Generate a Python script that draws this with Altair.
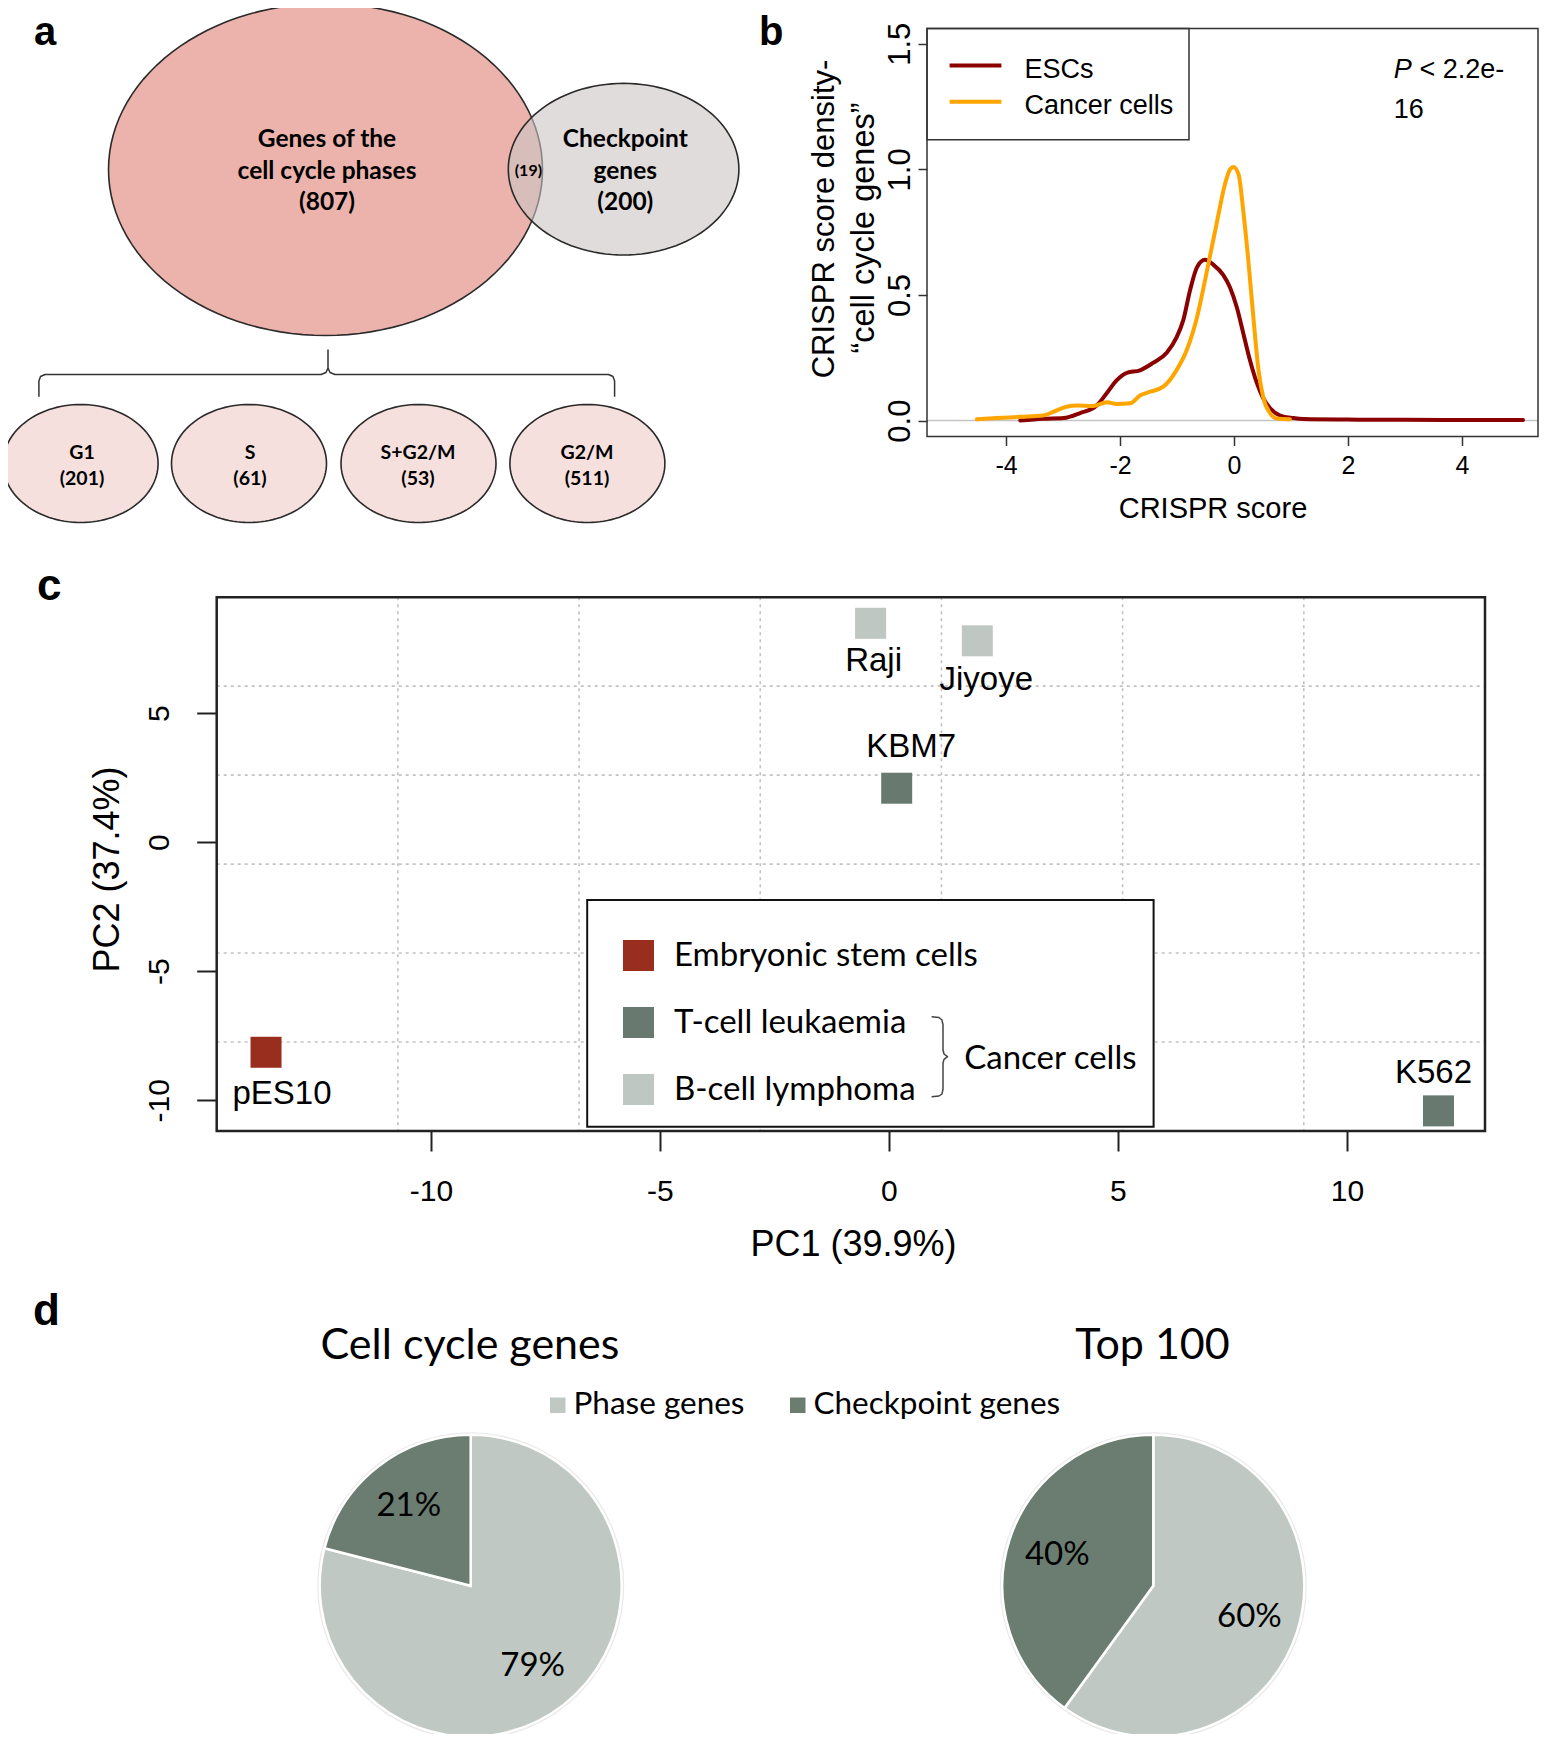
import math
import altair as alt
import pandas as pd

# ============================ DATA ============================
# (a) Venn diagram of gene sets
phase_set_label = "Genes of the\ncell cycle phases"
phase_set_size = 807
checkpoint_set_label = "Checkpoint\ngenes"
checkpoint_set_size = 200
overlap_size = 19
phase_names = ["G1", "S", "S+G2/M", "G2/M"]
phase_sizes = [201, 61, 53, 511]

# (b) CRISPR score density of cell cycle genes
density_series = ["ESCs", "Cancer cells"]
esc_score = [-3.75, -3.35, -2.99, -2.70, -2.41, -2.23, -2.06, -1.88, -1.65, -1.42,
             -1.18, -1.01, -0.89, -0.77, -0.65, -0.51, -0.36, -0.19, -0.07, 0.05,
             0.16, 0.28, 0.40, 0.51, 0.63, 0.81, 1.04, 1.22, 2.0, 3.0, 4.0, 5.07]
esc_density = [0.0, 0.007, 0.01, 0.03, 0.06, 0.11, 0.16, 0.19, 0.20, 0.23,
               0.27, 0.33, 0.40, 0.52, 0.61, 0.64, 0.62, 0.58, 0.53, 0.45,
               0.35, 0.24, 0.15, 0.09, 0.05, 0.02, 0.01, 0.006, 0.004, 0.003, 0.002, 0.002]
cancer_score = [-4.51, -4.16, -3.75, -3.35, -3.17, -2.94, -2.76, -2.47, -2.23, -2.06,
                -1.82, -1.65, -1.47, -1.24, -1.01, -0.83, -0.65, -0.48, -0.30, -0.16,
                -0.07, -0.01, 0.08, 0.16, 0.25, 0.34, 0.43, 0.51, 0.63, 0.75, 0.98]
cancer_density = [0.005, 0.01, 0.015, 0.02, 0.035, 0.055, 0.06, 0.058, 0.073, 0.066,
                  0.069, 0.10, 0.115, 0.135, 0.20, 0.28, 0.41, 0.59, 0.79, 0.94,
                  1.00, 1.01, 0.98, 0.84, 0.64, 0.41, 0.20, 0.095, 0.03, 0.008, 0.005]
score_ticks = [-4, -2, 0, 2, 4]
density_ticks = [0.0, 0.5, 1.0, 1.5]
p_value_parts = ["P", "< 2.2e-", "16"]
b_ytitle_lines = ["CRISPR score density-", "\u201ccell cycle genes\u201d"]

# (c) PCA of cell lines
cell_lines = ["pES10", "Raji", "Jiyoye", "KBM7", "K562"]
pc1 = [-13.60, -0.40, 1.93, 0.17, 12.00]
pc2 = [-8.14, 8.48, 7.80, 2.09, -10.41]
cell_line_type = ["Embryonic stem cells", "B-cell lymphoma", "B-cell lymphoma",
                  "T-cell leukaemia", "T-cell leukaemia"]
cell_types = ["Embryonic stem cells", "T-cell leukaemia", "B-cell lymphoma"]
pc1_ticks = [-10, -5, 0, 5, 10]
pc2_ticks = [-10, -5, 0, 5]
group_label = "Cancer cells"

# (d) pie charts
pie_titles = ["Cell cycle genes", "Top 100"]
gene_classes = ["Phase genes", "Checkpoint genes"]
cell_cycle_share = [79, 21]
top100_share = [60, 40]

# ============================ LAYOUT / STYLE ============================
W, H = 1531, 1726          # whole canvas (plot area, autosize none)
O = 8                      # page margin


def P(v):                  # reference pixel -> chart pixel
    return v - O


FONT = "Liberation Sans"
SFONT = "Lato"
ESC_RED, TCELL, BCELL = "#992E1F", "#687A6F", "#BEC7C1"
PIE_LIGHT, PIE_DARK = "#BFC8C2", "#6B7D71"
LINE_COLORS = ["#8B0000", "#FFA500"]

PXS = alt.Scale(domain=[0, W], range=[0, W], nice=False, zero=False)
PYS = alt.Scale(domain=[0, H], range=[0, H], nice=False, zero=False)
ONE = pd.DataFrame({"k": [0]})


def XP(f="px"):
    return alt.X(f"{f}:Q", scale=PXS, axis=None)


def YP(f="py"):
    return alt.Y(f"{f}:Q", scale=PYS, axis=None)


def text_at(txt, x, y, size, font=FONT, weight="normal", style="normal",
            align="left", baseline="alphabetic", angle=None):
    kw = dict(text=txt, font=font, fontSize=size, fontWeight=weight, fontStyle=style,
              align=align, baseline=baseline, color="black")
    if angle is not None:
        kw["angle"] = angle
    return alt.Chart(ONE).mark_text(**kw).encode(x=alt.value(P(x)), y=alt.value(P(y)))


def rect_at(x0, y0, x1, y1, stroke="#222", sw=1.5, fill=None):
    kw = dict(stroke=stroke, strokeWidth=sw)
    if fill is None:
        kw["fillOpacity"] = 0
        kw["fill"] = "white"
    else:
        kw["fill"] = fill
    return alt.Chart(ONE).mark_rect(**kw).encode(
        x=alt.value(P(x0)), x2=alt.value(P(x1)), y=alt.value(P(y0)), y2=alt.value(P(y1)))


def polyline(pts, color="#333", sw=1.5):
    df = pd.DataFrame({"px": [P(p[0]) for p in pts], "py": [P(p[1]) for p in pts],
                       "i": list(range(len(pts)))})
    return alt.Chart(df).mark_line(color=color, strokeWidth=sw, strokeJoin="round").encode(
        x=XP(), y=YP(), order="i:Q")


def ellipse_shape(k, n=120):
    pts = []
    for i in range(n):
        t = 2 * math.pi * i / n
        pts.append(f"{math.cos(t):.4f},{k * math.sin(t):.4f}")
    return "M" + " L".join(pts) + " Z"


def ellipses(cxs, cy, rx, ry, fill, fill_opacity=1.0):
    df = pd.DataFrame({"px": [P(c) for c in cxs], "py": [P(cy)] * len(cxs)})
    return alt.Chart(df).mark_point(
        shape=ellipse_shape(ry / rx), filled=True, size=(2 * rx) ** 2, fill=fill,
        fillOpacity=fill_opacity, stroke="#2a2a2a", strokeWidth=1.6, strokeOpacity=1,
        opacity=1).encode(x=XP(), y=YP())


layers = []

# ---------------- (a) Venn ----------------
layers.append(ellipses([325.5], 169.5, 217, 166, "#ECB3AC"))
layers.append(ellipses([623.6], 169.2, 115.3, 85.8, "#CBC5C5", 0.6))
layers.append(ellipses([80.6, 249, 418.5, 587.4], 463.5, 77.5, 59, "#F6E0DD"))
layers.append(polyline([(38.9, 396.8), (38.9, 381), (40.5, 376.5), (45, 374.5), (321, 374.5),
                        (326, 372.5), (328, 368), (328, 350), (328, 368), (330, 372.5),
                        (335, 374.5), (608.5, 374.5), (613, 376.5), (614.6, 381),
                        (614.6, 396.8)]))
venn_txt = pd.DataFrame({
    "px": [P(327), P(625.3)], "py": [P(140), P(140)],
    "t": [f"{phase_set_label}\n({phase_set_size})", f"{checkpoint_set_label}\n({checkpoint_set_size})"]})
layers.append(alt.Chart(venn_txt).mark_text(
    font=SFONT, fontWeight="bold", fontSize=24.5, lineBreak="\n", lineHeight=31.7,
    align="center", baseline="middle", color="black").encode(x=XP(), y=YP(), text="t:N"))
layers.append(text_at(f"({overlap_size})", 528.4, 175.5, 16, font=SFONT, weight="bold", align="center"))
small_txt = pd.DataFrame({"px": [P(c) for c in [82, 250, 418, 587]], "py": [P(452.5)] * 4,
                          "t": [f"{n}\n({c})" for n, c in zip(phase_names, phase_sizes)]})
layers.append(alt.Chart(small_txt).mark_text(
    font=SFONT, fontWeight="bold", fontSize=19.5, lineBreak="\n", lineHeight=26.7,
    align="center", baseline="middle", color="black").encode(x=XP(), y=YP(), text="t:N"))

# panel letters
for letter, (lx, ly, ls) in zip("abcd", [(34, 44.5, 40), (759, 44.5, 40), (37, 600, 44), (33, 1325, 44)]):
    layers.append(text_at(letter, lx, ly, ls, weight="bold"))

# ---------------- (b) density ----------------
BX0, BX1, BY0, BY1 = P(927), P(1538), P(28.6), P(436.5)
B_XS = alt.Scale(domain=[-5.386, 5.333], range=[BX0, BX1], nice=False, zero=False)
B_YS = alt.Scale(domain=[-0.0633, 1.5605], range=[BY1, BY0], nice=False, zero=False)
AXB_X = alt.Axis(orient="bottom", values=score_ticks, offset=BY1 - H, domain=False, grid=False,
                 tickSize=9, tickWidth=1.5, tickColor="#333", labelFont=FONT, labelFontSize=25,
                 labelColor="black", labelPadding=8, labelFlush=False, labelOverlap=False,
                 labelExpr="'' + datum.value", title="CRISPR score", titleFont=FONT,
                 titleFontSize=29, titleFontWeight="normal", titleColor="black",
                 titleX=P(1212.5), titleY=80.7, titleAlign="center", titleBaseline="alphabetic")
AXB_Y = alt.Axis(orient="left", values=density_ticks, offset=-BX0, domain=False, grid=False,
                 tickSize=9, tickWidth=1.5, tickColor="#333", labelFont=FONT, labelFontSize=31,
                 labelColor="black", labelPadding=9, labelAngle=270, labelAlign="center",
                 labelBaseline="alphabetic", labelFlush=False, labelOverlap=False,
                 labelExpr="format(datum.value, '.1f')", title=None)
layers.append(alt.Chart(pd.DataFrame({"y": [0.0]})).mark_rule(color="#c4c4c4", strokeWidth=1.5).encode(
    y=alt.Y("y:Q", scale=B_YS, axis=None), x=alt.value(BX0), x2=alt.value(BX1)))
dens = pd.concat([
    pd.DataFrame({"series": "ESCs", "score": esc_score, "density": esc_density,
                  "i": range(len(esc_score))}),
    pd.DataFrame({"series": "Cancer cells", "score": cancer_score, "density": cancer_density,
                  "i": range(len(cancer_score))})], ignore_index=True)
LINE_SCALE = alt.Scale(domain=density_series, range=LINE_COLORS)
layers.append(alt.Chart(dens).mark_line(strokeWidth=4, strokeJoin="round", strokeCap="round",
                                        interpolate="monotone").encode(
    x=alt.X("score:Q", scale=B_XS, axis=AXB_X),
    y=alt.Y("density:Q", scale=B_YS, axis=AXB_Y),
    color=alt.Color("series:N", scale=LINE_SCALE, legend=None),
    detail="series:N", order="i:Q"))
layers.append(rect_at(927, 28.6, 1538, 436.5, stroke="#333", sw=1.5))
layers.append(rect_at(927, 28.6, 1189, 139.7, stroke="#333", sw=1.5))
leg_b = pd.DataFrame({"series": density_series, "ly": [P(65.5), P(101.8)], "ty": [P(77.6), P(113.8)]})
layers.append(alt.Chart(leg_b).mark_rule(strokeWidth=4).encode(
    y=YP("ly"), x=alt.value(P(949.6)), x2=alt.value(P(1001.4)),
    color=alt.Color("series:N", scale=LINE_SCALE, legend=None)))
layers.append(alt.Chart(leg_b).mark_text(font=FONT, fontSize=27, align="left", baseline="alphabetic",
                                         color="black").encode(
    x=alt.value(P(1024.6)), y=YP("ty"), text="series:N"))
layers.append(text_at(p_value_parts[0], 1393.7, 77.6, 27, style="italic"))
layers.append(text_at(p_value_parts[1], 1419.5, 77.6, 27))
layers.append(text_at(p_value_parts[2], 1393.7, 117.5, 27))
layers.append(text_at(b_ytitle_lines[0], 833.5, 219, 31, align="center", angle=270))
layers.append(text_at(b_ytitle_lines[1], 873.5, 228, 32.5, align="center", angle=270))

# ---------------- (c) PCA ----------------
CX0, CX1, CY0, CY1 = P(216.7), P(1485), P(597.2), P(1131)
XMIN, XMAX, YMIN, YMAX = -14.677, 13.015, -11.19, 9.49
C_XS = alt.Scale(domain=[XMIN, XMAX], range=[CX0, CX1], nice=False, zero=False)
C_YS = alt.Scale(domain=[YMIN, YMAX], range=[CY1, CY0], nice=False, zero=False)
gx = pd.DataFrame({"g": [XMIN + k * (XMAX - XMIN) / 7 for k in range(1, 7)]})
gy = pd.DataFrame({"g": [YMIN + k * (YMAX - YMIN) / 6 for k in range(1, 6)]})
layers.append(alt.Chart(gx).mark_rule(color="#c2c2c2", strokeWidth=1.6, strokeDash=[3, 4]).encode(
    x=alt.X("g:Q", scale=C_XS, axis=None), y=alt.value(CY0), y2=alt.value(CY1)))
layers.append(alt.Chart(gy).mark_rule(color="#c2c2c2", strokeWidth=1.6, strokeDash=[3, 4]).encode(
    y=alt.Y("g:Q", scale=C_YS, axis=None), x=alt.value(CX0), x2=alt.value(CX1)))
layers.append(rect_at(587.2, 900, 1153.6, 1126.7, stroke="#111", sw=2, fill="white"))
layers.append(rect_at(216.7, 597.2, 1485, 1131, stroke="#222", sw=2.5))

AXC_X = alt.Axis(orient="bottom", values=pc1_ticks, offset=CY1 - H, domain=False, grid=False,
                 tickSize=20, tickWidth=2, tickColor="#222", labelFont=FONT, labelFontSize=30,
                 labelColor="black", labelPadding=25, labelFlush=False, labelOverlap=False,
                 labelExpr="'' + datum.value", title="PC1 (39.9%)", titleFont=FONT,
                 titleFontSize=36, titleFontWeight="normal", titleColor="black",
                 titleX=P(853), titleY=124, titleAlign="center", titleBaseline="alphabetic")
AXC_Y = alt.Axis(orient="left", values=pc2_ticks, offset=-CX0, domain=False, grid=False,
                 tickSize=20, tickWidth=2, tickColor="#222", labelFont=FONT, labelFontSize=30,
                 labelColor="black", labelPadding=28, labelAngle=270, labelAlign="center",
                 labelBaseline="alphabetic", labelFlush=False, labelOverlap=False,
                 labelExpr="'' + datum.value", title="PC2 (37.4%)", titleFont=FONT,
                 titleFontSize=36, titleFontWeight="normal", titleColor="black",
                 titleAngle=270, titleX=P(118.3) - CX0, titleY=P(869), titleAlign="center",
                 titleBaseline="alphabetic")
LEG_C = alt.Legend(orient="none", legendX=P(622), legendY=P(939), title=None, symbolType="square",
                   symbolSize=961, symbolStrokeWidth=0, labelFont=SFONT, labelFontSize=33,
                   labelColor="black", labelOffset=19, rowPadding=33, padding=0, labelLimit=0)
pca = pd.DataFrame({"line": cell_lines, "pc1": pc1, "pc2": pc2, "type": cell_line_type})
TYPE_SCALE = alt.Scale(domain=cell_types, range=[ESC_RED, TCELL, BCELL])
layers.append(alt.Chart(pca).mark_square(size=961, opacity=1).encode(
    x=alt.X("pc1:Q", scale=C_XS, axis=AXC_X),
    y=alt.Y("pc2:Q", scale=C_YS, axis=AXC_Y),
    color=alt.Color("type:N", scale=TYPE_SCALE, legend=LEG_C)))
label_offsets = {"pES10": (16, 52), "Raji": (3, 48), "Jiyoye": (9, 49),
                 "KBM7": (14.5, -31.5), "K562": (-5, -27.5)}
for name in cell_lines:
    dx, dy = label_offsets[name]
    layers.append(alt.Chart(pca[pca.line == name]).mark_text(
        font=FONT, fontSize=33, align="center", baseline="alphabetic", dx=dx, dy=dy,
        color="black").encode(
        x=alt.X("pc1:Q", scale=C_XS, axis=None), y=alt.Y("pc2:Q", scale=C_YS, axis=None),
        text="line:N"))
layers.append(polyline([(931.6, 1016.7), (939, 1017.5), (942, 1020), (943, 1025), (943, 1050),
                        (944, 1054), (947.5, 1056.7), (944, 1059.4), (943, 1063), (943, 1089),
                        (942, 1094), (939, 1096), (931.6, 1096.7)], color="#444", sw=1.5))
layers.append(text_at(group_label, 964.2, 1058.6, 33, font=SFONT, baseline="middle"))

# ---------------- (d) pies ----------------
PIE_SCALE = alt.Scale(domain=gene_classes, range=[PIE_LIGHT, PIE_DARK])
LEG_D = alt.Legend(orient="none", legendX=P(542), legendY=P(1389), direction="horizontal",
                   title=None, symbolType="square", symbolSize=289, symbolStrokeColor="white",
                   symbolStrokeWidth=1.5, labelFont=SFONT, labelFontSize=31.5, labelColor="black",
                   labelOffset=0, columnPadding=37, padding=0, labelLimit=0)
PCY = 1585.8
for title, share, (pcx, tcx), show in zip(pie_titles, [cell_cycle_share, top100_share],
                                          [(470.7, 470), (1153.3, 1152.5)], [True, False]):
    df = pd.DataFrame({"cls": gene_classes, "share": share, "ord": [0, 1],
                       "lab": [f"{v}%" for v in share]})
    layers.append(text_at(title, tcx, 1359, 43, font=SFONT, align="center"))
    layers.append(alt.Chart(ONE).mark_arc(radius=153.5, fill="#e9e9e9").encode(
        theta=alt.value(0), theta2=alt.value(2 * math.pi),
        x=alt.value(P(pcx)), y=alt.value(P(PCY))))
    layers.append(alt.Chart(df).mark_arc(radius=151, stroke="white", strokeWidth=2.5).encode(
        theta=alt.Theta("share:Q", stack=True),
        color=alt.Color("cls:N", scale=PIE_SCALE, legend=LEG_D if show else None),
        order=alt.Order("ord:Q"),
        x=alt.value(P(pcx)), y=alt.value(P(PCY))))
    layers.append(alt.Chart(df).mark_text(radius=101, font=SFONT, fontSize=33, color="black",
                                          align="center", baseline="middle").encode(
        theta=alt.Theta("share:Q", stack=True), order=alt.Order("ord:Q"), detail="cls:N",
        text="lab:N", x=alt.value(P(pcx)), y=alt.value(P(PCY))))

chart = alt.layer(*layers).resolve_scale(
    x="independent", y="independent", color="independent", theta="independent"
).properties(
    width=W, height=H, autosize=alt.AutoSizeParams(type="none"), padding=0
).configure_view(stroke=None)

chart.save("out.html", embed_options={"renderer": "svg", "actions": False})
